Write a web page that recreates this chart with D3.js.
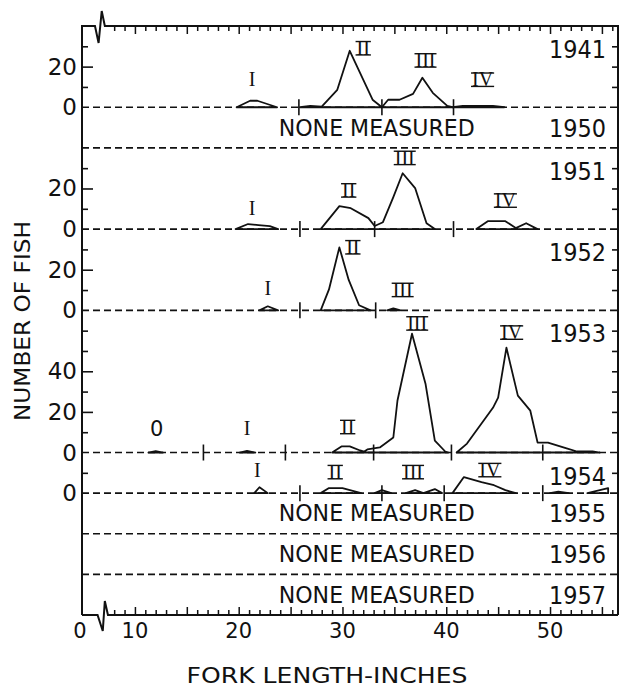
<!DOCTYPE html>
<html>
<head>
<meta charset="utf-8">
<script src="https://cdn.jsdelivr.net/npm/d3@7/dist/d3.min.js"></script>
<style>
  body { margin: 0; background: #fff; }
  text { fill: #111; }
</style>
</head>
<body>
<svg id="fig" width="622" height="688"></svg>
<script>
// rows of the figure, top to bottom
var years    = ["1941", "1950", "1951", "1952", "1953", "1954", "1955", "1956", "1957"];
var rowSpan  = [40, 20, 40, 40, 70, 20, 20, 20, 20];      // fish each row can hold
var measured = [true, false, true, true, true, true, false, false, false];

// y labels and highest tick for each measured row
var yLabels  = { "1941": [0, 20], "1951": [0, 20], "1952": [0, 20], "1953": [0, 20, 40], "1954": [0] };
var yTickTop = { "1941": 30, "1951": 30, "1952": 30, "1953": 60, "1954": 10 };

var xLabels = [10, 20, 30, 40, 50];

// frequency polygons: [fork length, number of fish]
var curves1941 = [
  [[19.8, 0], [21.1, 3.2], [21.8, 3.2], [23.7, 0]],
  [[25.9, 0], [26.9, 0.7], [28.0, 0.3], [29.5, 8.6], [30.7, 27.8], [32.9, 3.7], [33.8, 0]],
  [[33.8, 0], [34.4, 3.7], [35.5, 3.7], [36.8, 6.6], [37.7, 14.5], [38.7, 7.1], [40.1, 0.7], [40.6, 0]],
  [[40.6, 0], [41.6, 0.7], [44.5, 0.7], [45.6, 0]]
];
var curves1951 = [
  [[19.7, 0], [20.9, 2.5], [21.9, 2], [23.0, 1.5], [23.8, 0]],
  [[27.9, 0], [29.7, 11.3], [30.8, 10.3], [32.5, 5.4], [33.1, 1.5], [33.9, 3.4], [34.9, 15.7],
   [35.8, 27.5], [37.0, 20.2], [38.1, 2.9], [38.9, 0]],
  [[42.9, 0], [44.0, 3.9], [45.7, 3.9], [46.7, 0.5], [47.7, 2.9], [48.8, 0]]
];
var curves1952 = [
  [[22.0, 0], [22.8, 2], [23.8, 0]],
  [[27.9, 0], [28.7, 10.3], [29.7, 31], [30.6, 15], [31.6, 2.5], [32.7, 0]],
  [[34.3, 0], [34.9, 1], [35.6, 0]]
];
var curves1953 = [
  [[11.3, 0], [12.0, 0.7], [12.7, 0]],
  [[20.1, 0], [20.8, 0.8], [21.6, 0]],
  [[29.0, 0], [29.9, 3], [30.7, 3], [31.7, 1], [32.1, 0.5], [32.4, 1.5], [33.6, 2.5], [34.9, 7.4],
   [35.3, 25.6], [36.7, 58.5], [38.0, 33.9], [38.9, 5.9], [39.9, 0.5], [40.2, 0]],
  [[41.0, 0], [42.0, 4.4], [44.5, 22], [45.0, 27], [45.8, 51.6], [46.9, 28], [48.1, 20.6],
   [48.8, 4.9], [49.8, 4.9], [51.6, 2], [52.6, 0.5], [54.1, 0.5], [54.8, 0]]
];
var curves1954 = [
  [[21.5, 0], [22.0, 2.9], [22.8, 0]],
  [[27.9, 0], [28.7, 2.5], [30.0, 2.5], [31.8, 0]],
  [[33.1, 0], [33.8, 1.5], [34.7, 0]],
  [[36.1, 0], [37.0, 1.5], [37.8, 0], [38.9, 2], [39.6, 0]],
  [[40.6, 0], [41.7, 7.9], [43.4, 5.4], [44.6, 3.9], [45.7, 1.5], [46.7, 0]],
  [[50.0, 0], [50.8, 0.7], [51.8, 0]],
  [[53.6, 0], [55.6, 2.5], [55.6, 0]]
];

// age-group boundaries, inches
var bounds1941 = [25.8, 33.8, 40.7];
var bounds1951 = [25.9, 33.1, 40.7];
var bounds1952 = [25.9, 33.2];
var bounds1953 = [16.6, 24.5, 33.0, 40.5, 49.3];
var bounds1954 = [25.9, 33.8, 39.8, 49.3];

// age-group labels: [name, inches, fish]
var ages1941 = [["I", 21.3, 13.5], ["II", 32.0, 29], ["III", 38.0, 23], ["IV", 43.5, 13.5]];
var ages1951 = [["I", 21.3, 10.3], ["II", 30.6, 19], ["III", 36.0, 35], ["IV", 45.7, 14]];
var ages1952 = [["I", 22.8, 11], ["II", 31.0, 31], ["III", 35.8, 10]];
var ages1953 = [["0", 12.1, 12], ["I", 20.8, 12], ["II", 30.5, 12.5], ["III", 37.2, 63.5], ["IV", 46.3, 59]];
var ages1954 = [["I", 21.8, 11.3], ["II", 29.3, 10.3], ["III", 36.8, 10.3], ["IV", 44.2, 11.3]];

var curves = { "1941": curves1941, "1951": curves1951, "1952": curves1952, "1953": curves1953, "1954": curves1954 };
var bounds = { "1941": bounds1941, "1951": bounds1951, "1952": bounds1952, "1953": bounds1953, "1954": bounds1954 };
var ages   = { "1941": ages1941, "1951": ages1951, "1952": ages1952, "1953": ages1953, "1954": ages1954 };

var xLeft = 82, xRight = 618, yTop = 26, yBottom = 615;
var sans = "DejaVu Sans, sans-serif";
var serif = "Liberation Serif, DejaVu Serif, serif";

var svg = d3.select("#fig");

var x = d3.scaleLinear().domain([4.9, 56.55]).range([xLeft, xRight]);
var yAll = d3.scaleLinear().domain([0, d3.sum(rowSpan)]).range([yTop, yBottom]);

var off = 0;
var rows = years.map(function (yr, i) {
  var r = {
    year: yr, measured: measured[i],
    top: yAll(off), base: yAll(off + rowSpan[i]),
    y: d3.scaleLinear().domain([0, rowSpan[i]]).range([yAll(off + rowSpan[i]), yAll(off)])
  };
  off += rowSpan[i];
  return r;
});

// dashed row lines
svg.selectAll(".rowline")
  .data(rows.slice(0, -1))
  .enter().append("line")
    .attr("x1", xLeft).attr("x2", xRight)
    .attr("y1", function (r) { return r.base; })
    .attr("y2", function (r) { return r.base; })
    .attr("stroke", "#111").attr("stroke-width", 1.6)
    .attr("stroke-dasharray", "7,4");

// x ticks, top and bottom, pointing inward
var minorTicks = d3.range(8, 57).filter(function (v) { return v % 5 != 0; });
var majorTicks = d3.range(10, 57, 5);

function xTicks(axisFn, y, vals, size) {
  svg.append("g")
    .attr("transform", "translate(0," + y + ")")
    .call(axisFn(x).tickValues(vals).tickSize(size).tickFormat(""))
    .call(function (g) {
      g.select(".domain").remove();
      g.selectAll("line").attr("stroke", "#111").attr("stroke-width", 1.5);
    });
}
xTicks(d3.axisBottom, yTop, minorTicks, 5);
xTicks(d3.axisBottom, yTop, majorTicks, 8);
xTicks(d3.axisTop, yBottom, minorTicks, 5);
xTicks(d3.axisTop, yBottom, majorTicks, 8);

// frame with broken x axis
var frame = d3.line().x(function (d) { return x(d[0]); }).y(function (d) { return d[1]; });
svg.append("path")
  .attr("d", frame([[4.9, yBottom], [4.9, yTop], [6.15, yTop], [6.5, yTop + 17], [6.8, yTop - 15], [7.1, yTop], [56.55, yTop], [56.55, yBottom]]))
  .attr("fill", "none").attr("stroke", "#111").attr("stroke-width", 2);
svg.append("path")
  .attr("d", frame([[4.9, yBottom], [6.4, yBottom], [6.9, yBottom + 16], [7.1, yBottom - 14], [7.4, yBottom], [56.55, yBottom]]))
  .attr("fill", "none").attr("stroke", "#111").attr("stroke-width", 2);

// x labels
svg.selectAll(".xlab")
  .data(xLabels)
  .enter().append("text")
    .attr("x", function (v) { return x(v); })
    .attr("y", 638)
    .attr("text-anchor", "middle")
    .style("font", "21px " + sans)
    .text(function (v) { return v; });
svg.append("text")
  .attr("x", x(4.9) - 2).attr("y", 638)
  .attr("text-anchor", "middle")
  .style("font", "21px " + sans)
  .text("0");

var line = d3.line();

rows.forEach(function (r) {
  if (!r.measured) {
    svg.append("text")
      .attr("x", x(33.3)).attr("y", (r.top + r.base) / 2 + 8)
      .attr("text-anchor", "middle")
      .attr("textLength", 196).attr("lengthAdjust", "spacingAndGlyphs")
      .style("font", "23px " + sans)
      .text("NONE MEASURED");
    svg.append("text")
      .attr("x", 606).attr("y", (r.top + r.base) / 2 + 9)
      .attr("text-anchor", "end")
      .attr("textLength", 57).attr("lengthAdjust", "spacingAndGlyphs")
      .style("font", "24px " + sans)
      .text(r.year);
    return;
  }

  var yr = r.year;
  var ticks = d3.range(10, yTickTop[yr] + 1, 10);

  // y ticks, left and right
  svg.append("g")
    .attr("transform", "translate(" + xLeft + ",0)")
    .call(d3.axisRight(r.y).tickValues(ticks).tickSize(6).tickFormat(""))
    .call(function (g) {
      g.select(".domain").remove();
      g.selectAll("line").attr("stroke", "#111").attr("stroke-width", 1.6)
        .attr("x2", function (v) { return yLabels[yr].indexOf(v) >= 0 ? 11 : 6; });
    });
  svg.append("g")
    .attr("transform", "translate(" + xRight + ",0)")
    .call(d3.axisLeft(r.y).tickValues(ticks).tickSize(6).tickFormat(""))
    .call(function (g) {
      g.select(".domain").remove();
      g.selectAll("line").attr("stroke", "#111").attr("stroke-width", 1.6);
    });

  svg.selectAll(null)
    .data(yLabels[yr])
    .enter().append("text")
      .attr("x", 77)
      .attr("y", function (v) { return r.y(v) + 8; })
      .attr("text-anchor", "end")
      .style("font", "23px " + sans)
      .text(function (v) { return v; });

  // year
  svg.append("text")
    .attr("x", 606).attr("y", r.top + 32)
    .attr("text-anchor", "end")
    .attr("textLength", 57).attr("lengthAdjust", "spacingAndGlyphs")
    .style("font", "24px " + sans)
    .text(yr);

  // age group boundaries
  svg.selectAll(null)
    .data(bounds[yr])
    .enter().append("line")
      .attr("x1", function (v) { return x(v); })
      .attr("x2", function (v) { return x(v); })
      .attr("y1", r.base - 8).attr("y2", r.base + 8)
      .attr("stroke", "#111").attr("stroke-width", 1.6);

  // polygons
  svg.selectAll(null)
    .data(curves[yr])
    .enter().append("path")
      .attr("d", function (c) {
        return line(c.map(function (p) { return [x(p[0]), r.y(p[1])]; })) + "Z";
      })
      .attr("fill", "none")
      .attr("stroke", "#111").attr("stroke-width", 1.8)
      .attr("stroke-linejoin", "round");

  // roman numerals
  ages[yr].forEach(function (a) {
    var cx = x(a[1]), cy = r.y(a[2]);
    var isZero = a[0] == "0";
    var t = svg.append("text")
      .attr("x", cx).attr("y", cy + (isZero ? 7.5 : 6.5))
      .attr("text-anchor", "middle")
      .style("font", isZero ? "21px " + sans : "20px " + serif)
      .text(a[0]);
    if (a[0].length > 1) {
      var w = t.node().getComputedTextLength() + 2;
      [cy - 6.8, cy + 6.6].forEach(function (by) {
        svg.append("line")
          .attr("x1", cx - w / 2).attr("x2", cx + w / 2)
          .attr("y1", by).attr("y2", by)
          .attr("stroke", "#111").attr("stroke-width", 1.4);
      });
    }
  });
});

// axis titles
svg.append("text")
  .attr("transform", "translate(30,321) rotate(-90)")
  .attr("text-anchor", "middle")
  .attr("textLength", 200).attr("lengthAdjust", "spacingAndGlyphs")
  .style("font", "22px " + sans)
  .text("NUMBER OF FISH");

svg.append("text")
  .attr("x", 327).attr("y", 683)
  .attr("text-anchor", "middle")
  .attr("textLength", 281).attr("lengthAdjust", "spacingAndGlyphs")
  .style("font", "22px " + sans)
  .text("FORK LENGTH-INCHES");
</script>
</body>
</html>
